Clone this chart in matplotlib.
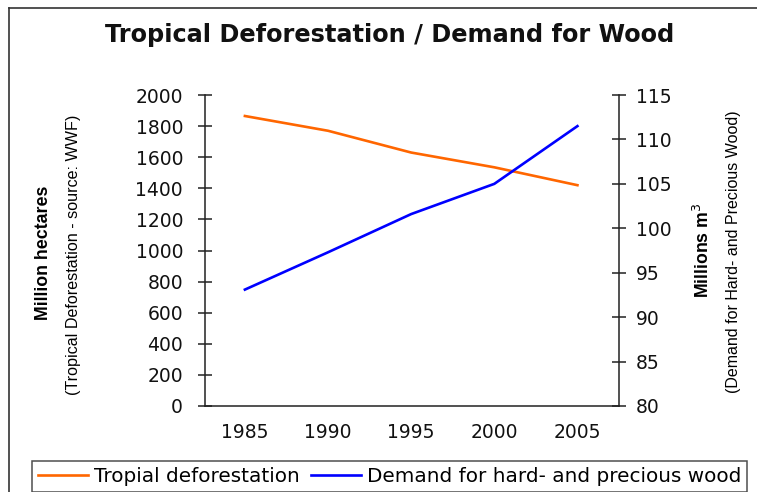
"""
 Tropical deforestation vs demand for wood (dual axis line chart)
"""

# Libraries
import matplotlib
matplotlib.use("Agg")
import matplotlib.pyplot as plt
from matplotlib.lines import Line2D

# Data
years        = [1985, 1990, 1995, 2000, 2005]
deforest     = [1865, 1770, 1630, 1535, 1420]   # million hectares
wood_demand  = [93.1, 97.3, 101.6, 105.0, 111.5] # millions m3

left_ticks  = [0, 200, 400, 600, 800, 1000, 1200, 1400, 1600, 1800, 2000]
right_ticks = [80, 85, 90, 95, 100, 105, 110, 115]

# Styles
ORANGE = "#ff6600"
BLUE   = "#0000ff"
AXCOL  = "#222222"
LABELF = "Liberation Sans"
TICKF  = "DejaVu Sans"

# Figure
fig = plt.figure(figsize=(7.57, 4.92), dpi=100)
ax = fig.add_axes([0.2708, 0.1748, 0.5469, 0.6321])
ax2 = ax.twinx()

# Plot the lines
ax.plot(years, deforest, color=ORANGE, linewidth=1.9)
ax2.plot(years, wood_demand, color=BLUE, linewidth=1.9)

# Axis limits and ticks
ax.set_xlim(1982.6, 2007.5)
ax.set_ylim(0, 2000)
ax2.set_ylim(80, 115)
ax.set_xticks(years)
ax.set_yticks(left_ticks)
ax2.set_yticks(right_ticks)

for a in (ax, ax2):
    a.spines["top"].set_visible(False)
    for s in ("left", "right", "bottom"):
        a.spines[s].set_color(AXCOL)
        a.spines[s].set_linewidth(1.1)
ax.spines["right"].set_visible(False)
ax2.spines["left"].set_visible(False)
ax2.spines["bottom"].set_visible(False)

ax.tick_params(axis="y", direction="inout", length=9.5, width=1.1, color=AXCOL, pad=11)
ax.tick_params(axis="x", length=0, pad=12)
ax2.tick_params(axis="y", direction="inout", length=10.5, width=1.1, color=AXCOL, pad=7)
for lab in ax.get_xticklabels() + ax.get_yticklabels() + ax2.get_yticklabels():
    lab.set_fontfamily(TICKF)
    lab.set_fontsize(13.5)
    lab.set_color("#111111")

# Title
fig.text(0.515, 0.928, "Tropical Deforestation / Demand for Wood", ha="center", va="center",
         fontsize=17.3, fontweight="bold", family="DejaVu Sans", color="#111111")

# Axis labels
fig.text(0.058, 0.487, "Million hectares", rotation=90, ha="center", va="center",
         fontsize=12.8, fontweight="bold", family=LABELF)
fig.text(0.097, 0.482, "(Tropical Deforestation - source: WWF)", rotation=90, ha="center", va="center",
         fontsize=11.6, family=LABELF)
fig.text(0.928, 0.492, "Millions m$^3$", rotation=90, ha="center", va="center",
         fontsize=12.7, fontweight="bold", family=LABELF)
fig.text(0.969, 0.488, "(Demand for Hard- and Precious Wood)", rotation=90, ha="center", va="center",
         fontsize=11.5, family=LABELF)

# Legend
handles = [Line2D([], [], color=ORANGE, linewidth=1.9), Line2D([], [], color=BLUE, linewidth=1.9)]
labels = ["Tropial deforestation", "Demand for hard- and precious wood"]
leg = fig.legend(handles, labels, loc="upper left", bbox_to_anchor=(0.042, 0.063), ncol=2,
                 frameon=True, fancybox=False, edgecolor=AXCOL, handlelength=2.5,
                 handletextpad=0.3, columnspacing=0.55, borderpad=0.3, borderaxespad=0,
                 prop={"family": TICKF, "size": 14.4})
leg.get_frame().set_linewidth(1.1)

# Outer border
fig.add_artist(Line2D([0.012, 1.0], [0.984, 0.984], transform=fig.transFigure, color="#333333", linewidth=1.2))
fig.add_artist(Line2D([0.012, 0.012], [0.0, 0.984], transform=fig.transFigure, color="#333333", linewidth=1.2))

fig.savefig("out.png", dpi=100)
